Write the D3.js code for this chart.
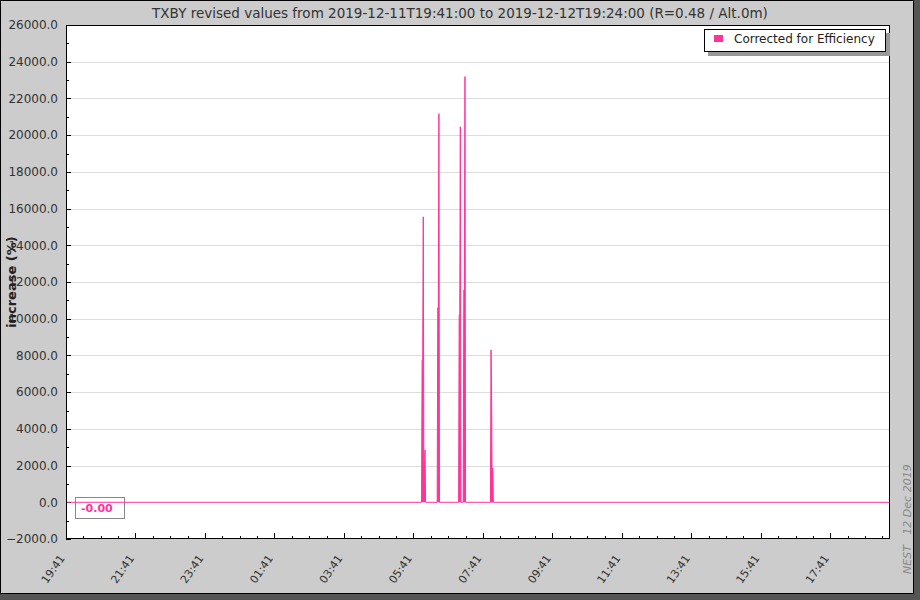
<!DOCTYPE html>
<html><head><meta charset="utf-8">
<script src="https://cdn.jsdelivr.net/npm/d3@7"></script>
<style>
html,body{margin:0;padding:0;background:#555555;}
svg{display:block;font-family:"DejaVu Sans",sans-serif;}
</style></head>
<body>
<svg id="c" width="920" height="600"></svg>
<script>
// ---- data ----
const titleText = "TXBY revised values from 2019-12-11T19:41:00 to 2019-12-12T19:24:00 (R=0.48 / Alt.0m)";
const yLabel = "increase (%)";
const seriesName = "Corrected for Efficiency";
const rangeStart = "2019-12-11 19:41";
const rangeEnd = "2019-12-12 19:24";
const xTickLabels = ["19:41","21:41","23:41","01:41","03:41","05:41","07:41","09:41","11:41","13:41","15:41","17:41"];
const yTicks = [-2000,0,2000,4000,6000,8000,10000,12000,14000,16000,18000,20000,22000,24000,26000];
const sampleTimes = [
  "2019-12-11 19:41",
  "2019-12-12 05:55","2019-12-12 05:56","2019-12-12 05:57","2019-12-12 05:58","2019-12-12 05:59","2019-12-12 06:00","2019-12-12 06:01","2019-12-12 06:02",
  "2019-12-12 06:22","2019-12-12 06:23","2019-12-12 06:24","2019-12-12 06:25","2019-12-12 06:26",
  "2019-12-12 06:59","2019-12-12 07:00","2019-12-12 07:01","2019-12-12 07:02","2019-12-12 07:03",
  "2019-12-12 07:07","2019-12-12 07:08","2019-12-12 07:09","2019-12-12 07:10","2019-12-12 07:11",
  "2019-12-12 07:54","2019-12-12 07:55","2019-12-12 07:56","2019-12-12 07:57","2019-12-12 07:58","2019-12-12 07:59",
  "2019-12-12 19:24"
];
const sampleValues = [
  0,
  0,7750,7750,15550,2000,2000,2850,0,
  0,10600,10600,21170,0,
  0,10200,10200,20460,0,
  0,11570,11570,23190,0,
  0,8300,6000,0,1860,0,
  0
];
const lastValueText = "-0.00";
const footerText = "NEST   12 Dec 2019";

// ---- drawing ----
const parse = d3.timeParse("%Y-%m-%d %H:%M");
const svg = d3.select("#c");
const W = 914, H = 594;
const L = 66, R = 890, T = 25, B = 539;
const pink = "#ff3399";

svg.append("rect").attr("x",0.5).attr("y",0.5).attr("width",W-1).attr("height",H-1)
  .attr("fill","#cccccc").attr("stroke","#000");

const t0 = parse(rangeStart), t1 = parse(rangeEnd);
const x = d3.scaleTime().domain([t0,t1]).range([L,R]);
const y = d3.scaleLinear().domain([-2000,26000]).range([B,T]);

svg.append("rect").attr("x",L).attr("y",T).attr("width",R-L).attr("height",B-T).attr("fill","#fff");

// grid
svg.append("g").selectAll("line").data(yTicks.filter(v=>v>-2000&&v<26000&&v!==0)).join("line")
  .attr("x1",L).attr("x2",R).attr("y1",d=>Math.round(y(d))+0.5).attr("y2",d=>Math.round(y(d))+0.5)
  .attr("stroke","#dddddd").attr("stroke-width",1);

// y axis
const yMinor = d3.range(-2000,26001,1000);
const gy = svg.append("g");
gy.selectAll("line.mi").data(yMinor).join("line").attr("class","mi")
  .attr("x1",L).attr("x2",d=>L+(d%2000===0?5:3))
  .attr("y1",d=>Math.round(y(d))+0.5).attr("y2",d=>Math.round(y(d))+0.5).attr("stroke","#000");
gy.selectAll("text").data(yTicks).join("text")
  .attr("x",L-8).attr("y",d=>y(d)).attr("dy","0.36em").attr("text-anchor","end")
  .attr("font-size",12).attr("fill","#333").text(d=>d3.format(".1f")(d));

// x axis
const xMajor = xTickLabels.map((s,i)=>d3.timeHour.offset(t0,2*i));
const xMinor = d3.range(0,48).map(i=>d3.timeMinute.offset(t0,30*i)).filter(d=>d<=t1);
const gx = svg.append("g");
gx.selectAll("line").data(xMinor).join("line")
  .attr("x1",d=>Math.round(x(d))+0.5).attr("x2",d=>Math.round(x(d))+0.5)
  .attr("y1",B).attr("y2",(d,i)=>B-(i%4===0?6:3)).attr("stroke","#000");
gx.selectAll("text").data(xMajor).join("text")
  .attr("transform",(d)=>`translate(${x(d)-4},${B+17}) rotate(-55)`)
  .attr("text-anchor","end").attr("dy","0.35em").attr("font-size",11).attr("fill","#333")
  .text((d,i)=>xTickLabels[i]);

// last value box
svg.append("rect").attr("x",75.5).attr("y",497.5).attr("width",49).attr("height",21)
  .attr("fill","#fff").attr("stroke","#888");
svg.append("text").attr("x",81).attr("y",512).attr("font-size",11).attr("font-weight","bold")
  .attr("fill",pink).text(lastValueText);

// series
const data = sampleTimes.map((s,i)=>({t:parse(s),v:sampleValues[i]}));
svg.append("path").datum(data).attr("fill",pink).attr("stroke","none")
  .attr("d",d3.area().x(d=>x(d.t)).y0(y(0)).y1(d=>y(d.v)));
svg.append("path").datum(data).attr("fill","none").attr("stroke",pink).attr("stroke-width",1)
  .attr("d",d3.line().x(d=>x(d.t)).y(d=>y(d.v)));

// plot frame
svg.append("rect").attr("x",L+0.5).attr("y",T+0.5).attr("width",R-L-1).attr("height",B-T-1)
  .attr("fill","none").attr("stroke","#000");

// title
svg.append("text").attr("x",460).attr("y",18).attr("text-anchor","middle")
  .attr("font-size",13.5).attr("fill","#333").text(titleText);

// y label
svg.append("text").attr("transform",`translate(16,282) rotate(-90)`).attr("text-anchor","middle")
  .attr("font-size",13).attr("font-weight","bold").attr("fill","#222").text(yLabel);

// legend
svg.append("rect").attr("x",708).attr("y",33).attr("width",182).attr("height",23).attr("fill","#999");
svg.append("rect").attr("x",704.5).attr("y",29.5).attr("width",181).attr("height",22)
  .attr("fill","#fff").attr("stroke","#000");
svg.append("rect").attr("x",714).attr("y",35).attr("width",9).attr("height",7).attr("fill",pink);
svg.append("text").attr("x",734).attr("y",43).attr("font-size",12).attr("fill","#222").text(seriesName);

// footer
svg.append("text").attr("transform",`translate(911,574) rotate(-90)`).attr("text-anchor","start")
  .attr("font-size",11).attr("font-style","italic").attr("fill","#888").attr("xml:space","preserve")
  .style("white-space","pre").text(footerText);
</script>
</body></html>
